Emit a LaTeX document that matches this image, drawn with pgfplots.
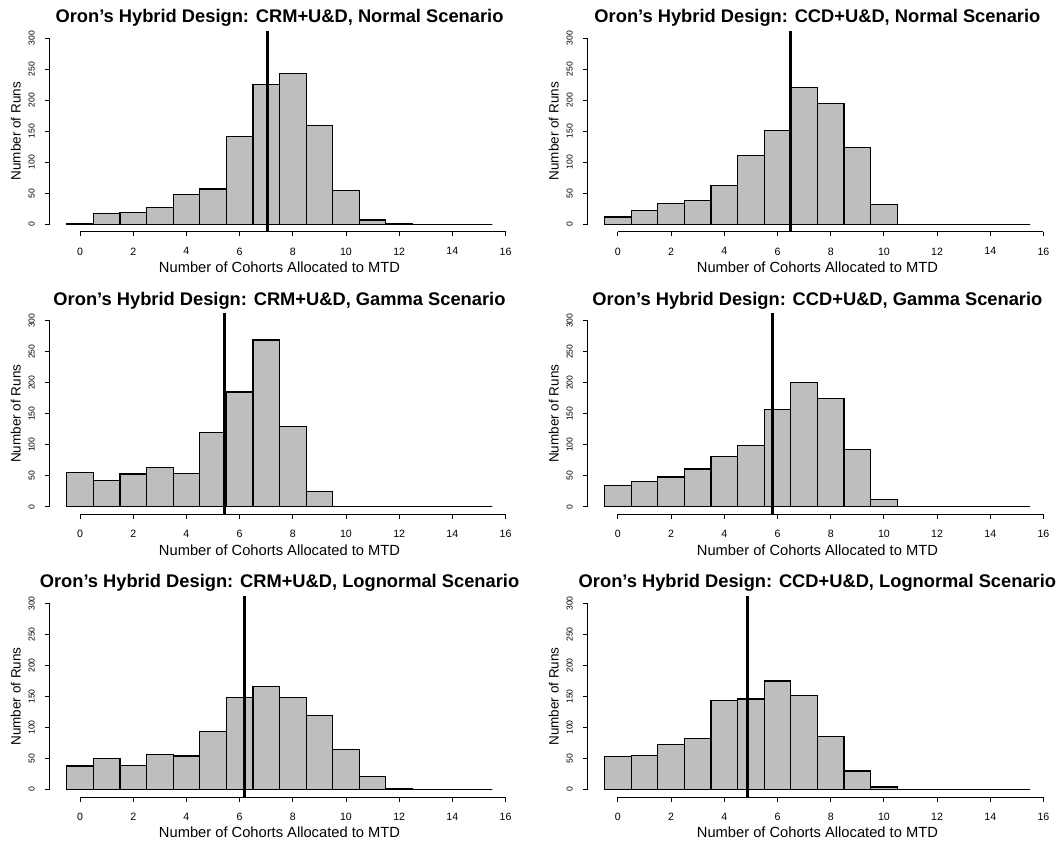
\documentclass[border=0pt]{standalone}
\usepackage{pgfplots}
\pgfplotsset{compat=1.18}
\usepackage{fontspec}
\setmainfont{Liberation Sans}
\definecolor{rgray}{RGB}{190,190,190}
\pgfplotsset{
  hist/.style={
    scale only axis, width=459.6pt, height=201pt,
    xmin=-1.14, xmax=16.14, ymin=-12, ymax=312,
    axis x line*=bottom, axis y line*=left,
    axis line style={draw=none},
    clip=false,
    xtick={0,2,...,16}, ytick={0,50,...,300},
    tick align=outside, major tick length=4.5pt,
    every tick/.style={black, line width=0.9pt},
    /pgf/number format/assume math mode=true,
    xticklabel style={font=\fontsize{10.6}{11}\selectfont, inner sep=0pt, anchor=north},
    xticklabel shift=11.1pt,
    yticklabel style={font=\fontsize{8.6}{9}\selectfont, inner sep=0pt, rotate=90, anchor=south},
    yticklabel shift=10.2pt,
    title style={font=\fontsize{18.3}{20}\selectfont\bfseries, at={(axis description cs:0.5,1.0408)}, anchor=base, inner sep=0pt, yshift=-6pt},
    xlabel style={font=\fontsize{14.7}{16}\selectfont, at={(axis description cs:0.5,-0.2035)}, anchor=base, inner sep=0pt},
    ylabel style={font=\fontsize{13.5}{15}\selectfont, at={(axis description cs:-0.0631,0.5)}, anchor=base, inner sep=0pt},
    xlabel={Number of Cohorts Allocated to MTD},
    ylabel={Number of Runs},
  },
  bars/.style={ybar, bar width=1, bar shift=0pt, fill=rgray, draw=black, line width=1.2pt},
  vline/.style={black, line width=3pt},
}
\newcommand{\axframe}{%
  \draw[line width=0.9pt] (axis cs:0,-12) -- (axis cs:16,-12);
  \draw[line width=0.9pt] (axis cs:-1.14,0) -- (axis cs:-1.14,300);
}
\begin{document}
\begin{tikzpicture}
\useasboundingbox (0,0) rectangle (1062pt,-840pt);

% Row 1 left: CRM Normal
\begin{axis}[hist, at={(49.7pt,-30.8pt)}, anchor=north west,
  title={Oron’s Hybrid Design: CRM+U\&D, Normal Scenario}]
\axframe
\addplot[bars] coordinates {(0,1) (1,17) (2,19) (3,27) (4,48) (5,57) (6,141) (7,226) (8,243) (9,159) (10,54) (11,7) (12,1) (13,0) (14,0) (15,0)};
\addplot[vline] coordinates {(7.03,-12) (7.03,312)};
\end{axis}

% Row 1 right: CCD Normal
\begin{axis}[hist, at={(587.6pt,-30.8pt)}, anchor=north west,
  title={Oron’s Hybrid Design: CCD+U\&D, Normal Scenario}]
\axframe
\addplot[bars] coordinates {(0,12) (1,22) (2,33) (3,38) (4,62) (5,111) (6,151) (7,220) (8,195) (9,124) (10,32) (11,0) (12,0) (13,0) (14,0) (15,0)};
\addplot[vline] coordinates {(6.47,-12) (6.47,312)};
\end{axis}

% Row 2 left: CRM Gamma
\begin{axis}[hist, at={(49.7pt,-313.3pt)}, anchor=north west,
  title={Oron’s Hybrid Design: CRM+U\&D, Gamma Scenario}]
\axframe
\addplot[bars] coordinates {(0,56) (1,42) (2,53) (3,64) (4,54) (5,120) (6,185) (7,269) (8,130) (9,25) (10,1) (11,0) (12,0) (13,0) (14,0) (15,0)};
\addplot[vline] coordinates {(5.43,-12) (5.43,312)};
\end{axis}

% Row 2 right: CCD Gamma
\begin{axis}[hist, at={(587.6pt,-313.3pt)}, anchor=north west,
  title={Oron’s Hybrid Design: CCD+U\&D, Gamma Scenario}]
\axframe
\addplot[bars] coordinates {(0,34) (1,41) (2,48) (3,61) (4,81) (5,99) (6,157) (7,200) (8,175) (9,92) (10,12) (11,0) (12,0) (13,0) (14,0) (15,0)};
\addplot[vline] coordinates {(5.81,-12) (5.81,312)};
\end{axis}

% Row 3 left: CRM Lognormal
\begin{axis}[hist, at={(49.7pt,-596pt)}, anchor=north west,
  title={Oron’s Hybrid Design: CRM+U\&D, Lognormal Scenario}]
\axframe
\addplot[bars] coordinates {(0,38) (1,50) (2,39) (3,57) (4,54) (5,94) (6,148) (7,166) (8,148) (9,119) (10,65) (11,21) (12,1) (13,0) (14,0) (15,0)};
\addplot[vline] coordinates {(6.19,-12) (6.19,312)};
\end{axis}

% Row 3 right: CCD Lognormal
\begin{axis}[hist, at={(587.6pt,-596pt)}, anchor=north west,
  title={Oron’s Hybrid Design: CCD+U\&D, Lognormal Scenario}]
\axframe
\addplot[bars] coordinates {(0,53) (1,55) (2,73) (3,82) (4,144) (5,146) (6,175) (7,151) (8,85) (9,30) (10,4) (11,0) (12,0) (13,0) (14,0) (15,0)};
\addplot[vline] coordinates {(4.86,-12) (4.86,312)};
\end{axis}
\end{tikzpicture}
\end{document}
